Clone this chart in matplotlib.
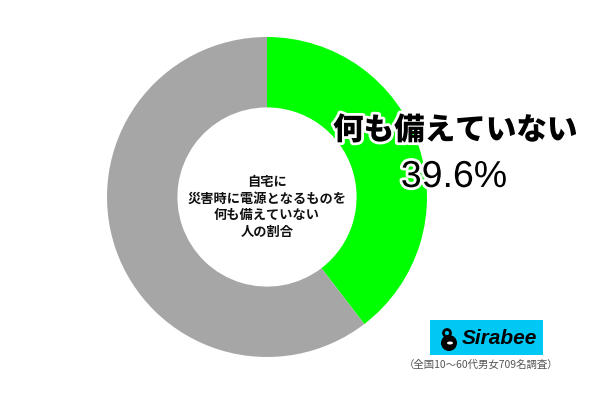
import matplotlib
matplotlib.use("Agg")
from matplotlib import pyplot as plt, patches
import matplotlib.patheffects as pe

plt.rcParams['font.family'] = ['Noto Sans CJK JP', 'DejaVu Sans']

labels = ["何も備えていない", "その他"]
values = [39.6, 60.4]
colors = ["#00ff00", "#a6a6a6"]
center_text = "自宅に\n災害時に電源となるものを\n何も備えていない\n人の割合"
big_label = "何も備えていない"
big_value = "39.6%"
note = "（全国10～60代男女709名調査）"

fig = plt.figure(figsize=(6, 4), dpi=100)
ax = fig.add_axes([0, 0, 1, 1])
ax.set_xlim(0, 600)
ax.set_ylim(0, 400)
ax.set_aspect("equal")
ax.axis("off")

# ドーナツ
ax.pie(values, colors=colors, startangle=90, counterclock=False,
       center=(267, 203), radius=160,
       wedgeprops=dict(width=160 * 0.44, edgecolor="none"))
ax.set_xlim(0, 600)
ax.set_ylim(0, 400)

ax.text(267, 193, center_text, ha="center", va="center", fontsize=9.5,
        fontweight="bold", linespacing=1.25, color="#111111")

stroke = [pe.withStroke(linewidth=4, foreground="white")]
ax.text(455, 270, big_label, ha="center", va="center", fontsize=22,
        fontweight=900, color="black", path_effects=stroke)
ax.text(454, 223, big_value, ha="center", va="center", fontsize=27,
        family=["Liberation Sans", "DejaVu Sans"], color="black",
        path_effects=stroke)

# ロゴ
ax.add_patch(patches.Rectangle((430, 45), 113, 35, facecolor="#00c8f5",
                               edgecolor="none"))
ax.add_patch(patches.Circle((449, 57), 8, facecolor="black"))
ax.add_patch(patches.Circle((447, 67), 3.5, facecolor="none",
                            edgecolor="black", linewidth=2.0))
ax.add_patch(patches.Ellipse((450, 57), 6, 3, facecolor="white"))
ax.text(462, 62, "Sirabee", ha="left", va="center", fontsize=15,
        fontweight="bold", style="italic",
        family=["Liberation Sans", "DejaVu Sans"], color="black")
ax.text(481, 35, note, ha="center", va="center", fontsize=7.5,
        color="#555555")

fig.savefig("out.png", dpi=100)
